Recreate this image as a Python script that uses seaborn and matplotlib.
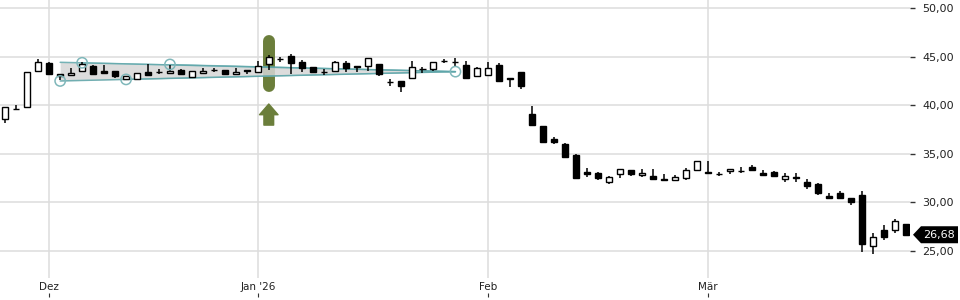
import numpy as np
import pandas as pd
import matplotlib
matplotlib.use("Agg")
import matplotlib.pyplot as plt
import seaborn as sns
from matplotlib.transforms import blended_transform_factory
from matplotlib.patches import Polygon

# ---------------- data ----------------
opens = [38.56, 39.62, 39.79, 43.50, 44.35, 43.22, 43.15, 43.56, 44.04, 43.56,
         43.50, 42.74, 42.67, 43.40, 43.42, 43.29, 43.63, 42.88, 43.29, 43.62,
         43.66, 43.19, 43.63, 43.40, 44.25, 44.74, 45.07, 44.45, 43.91, 43.45,
         43.53, 44.35, 44.04, 44.04, 44.25, 42.36, 42.47, 42.84, 43.68, 43.73,
         44.58, 44.48, 44.15, 42.98, 43.15, 44.15, 42.78, 43.43, 39.10, 37.87,
         36.56, 35.99, 34.89, 33.14, 33.00, 32.08, 32.90, 33.34, 32.80, 32.73,
         32.45, 32.35, 32.55, 33.37, 33.10, 32.92, 33.21, 33.26, 33.62, 33.07,
         33.14, 32.39, 32.58, 32.11, 31.90, 30.67, 30.98, 30.43, 30.77, 25.56,
         27.14, 27.14, 27.79]
highs = [39.80, 40.00, 43.40, 44.73, 44.49, 43.25, 43.81, 44.49, 44.18, 44.15,
         43.50, 42.98, 43.32, 44.25, 43.70, 44.15, 43.70, 43.56, 43.81, 43.87,
         43.66, 43.81, 43.63, 44.56, 45.17, 45.00, 45.25, 44.66, 43.91, 43.70,
         44.59, 44.59, 44.04, 44.84, 44.25, 42.71, 42.47, 44.53, 43.97, 44.42,
         44.76, 44.84, 44.56, 43.97, 44.42, 44.32, 42.80, 43.43, 39.96, 37.90,
         36.74, 36.09, 34.99, 33.52, 33.11, 32.70, 33.42, 33.34, 33.42, 33.42,
         32.93, 32.83, 33.52, 34.24, 34.24, 33.17, 33.45, 33.68, 33.86, 33.34,
         33.24, 33.00, 33.00, 32.39, 32.00, 31.00, 31.15, 30.43, 31.15, 26.83,
         27.65, 28.30, 27.79]
lows = [38.21, 39.52, 39.79, 43.50, 43.19, 42.55, 43.15, 43.56, 43.25, 43.35,
        42.78, 42.60, 42.67, 43.15, 43.20, 43.29, 43.19, 42.88, 43.29, 43.46,
        43.25, 43.19, 43.22, 43.40, 43.63, 44.49, 43.19, 43.40, 43.35, 43.12,
        43.53, 43.40, 43.46, 43.56, 43.05, 42.02, 41.40, 42.84, 43.29, 43.56,
        44.32, 43.97, 42.84, 42.98, 43.15, 42.53, 41.91, 41.68, 37.87, 36.15,
        36.02, 34.71, 32.55, 32.59, 32.32, 31.90, 32.55, 32.73, 32.59, 32.39,
        32.28, 32.20, 32.35, 33.24, 33.07, 32.76, 32.93, 33.00, 33.37, 32.80,
        32.76, 32.14, 32.14, 31.39, 30.80, 30.39, 30.36, 29.74, 24.94, 24.70,
        26.17, 26.83, 26.68]
closes = [39.79, 39.66, 43.40, 44.42, 43.25, 43.05, 43.35, 44.28, 43.25, 43.35,
          42.98, 42.98, 43.32, 43.15, 43.40, 43.53, 43.19, 43.56, 43.56, 43.64,
          43.25, 43.40, 43.50, 44.04, 45.00, 44.78, 44.38, 43.87, 43.46, 43.47,
          44.45, 43.81, 43.91, 44.84, 43.19, 42.38, 42.02, 43.97, 43.72, 44.42,
          44.60, 44.50, 42.84, 43.81, 43.81, 42.53, 42.72, 42.02, 37.97, 36.26,
          36.26, 34.71, 32.55, 32.93, 32.49, 32.65, 33.42, 32.90, 33.03, 32.39,
          32.28, 32.62, 33.31, 34.24, 33.07, 32.94, 33.45, 33.28, 33.37, 32.80,
          32.76, 32.73, 32.52, 31.73, 31.01, 30.46, 30.46, 30.02, 25.73, 26.48,
          26.45, 28.10, 26.68]

first_day = "2025-11-25"
last_day = "2026-03-26"
exchange_holidays = ["2025-12-24", "2025-12-25", "2025-12-26", "2025-12-31", "2026-01-01"]
month_labels = {12: "Dez", 1: "Jan '26", 2: "Feb", 3: "Mär"}
ytick_values = [25, 30, 35, 40, 45, 50]
last_price_label = "26,68"

# triangle formation (trading-day index, price)
tri_upper_x = [5, 41]
tri_upper_y = [44.42, 43.46]
tri_lower_x = [5, 41]
tri_lower_y = [42.50, 43.46]
tri_fan_x = [[7, 41], [15, 41], [11, 41]]
tri_fan_y = [[44.37, 43.46], [44.20, 43.46], [42.66, 43.46]]
pivot_x = [5, 7, 11, 15, 41]
pivot_y = [42.50, 44.37, 42.66, 44.20, 43.46]

# signal marker
signal_idx = 24
signal_top = 47.23
signal_bottom = 41.37
arrow_tip = 40.13
arrow_base = 37.96

# ---------------- build frame ----------------
dates = pd.bdate_range(first_day, last_day)
dates = dates[~dates.isin(pd.to_datetime(exchange_holidays))]
df = pd.DataFrame({"date": dates, "open": opens, "high": highs,
                   "low": lows, "close": closes})
df["x"] = np.arange(len(df))
df["up"] = df["close"] >= df["open"]

# ---------------- style ----------------
sns.set_theme(style="white")
plt.rcParams["font.family"] = ["DejaVu Sans"]

W, H = 960, 300
fig = plt.figure(figsize=(W / 100, H / 100), dpi=100)
ax = fig.add_axes([0, 22 / H, 910 / W, 278 / H])

grid_c = "#dddddd"
olive = "#6b7e3b"
teal = "#5ea6aa"
ink = "#000000"

# signal bar (rounded) and arrow
cap = 6 / 9.72  # half of the line width, in price units
ax.plot([signal_idx, signal_idx], [signal_bottom + cap, signal_top - cap],
        color=olive, lw=8.6, solid_capstyle="round", zorder=1.5)
ax.annotate("", xy=(signal_idx, arrow_tip), xytext=(signal_idx, arrow_base),
            arrowprops=dict(arrowstyle="simple,head_length=0.55,head_width=0.95,tail_width=0.5",
                            color=olive, shrinkA=0, shrinkB=0, mutation_scale=14),
            zorder=1.5)

# triangle band
xs = np.array(tri_upper_x, dtype=float)
ax.fill_between(xs, tri_lower_y, tri_upper_y, color="#d6d6d6", alpha=0.85,
                lw=0, zorder=1.8)
ax.plot(tri_upper_x, tri_upper_y, color=teal, lw=1.1, alpha=0.85, zorder=1.9)
ax.plot(tri_lower_x, tri_lower_y, color=teal, lw=1.1, alpha=0.85, zorder=1.9)
for fx, fy in zip(tri_fan_x, tri_fan_y):
    ax.plot(fx, fy, color=teal, lw=0.9, alpha=0.6, zorder=1.9)
sns.scatterplot(x=pivot_x, y=pivot_y, ax=ax, s=55, facecolor="none",
                edgecolor="#7fb7ba", linewidth=1.1, zorder=4, legend=False)

# candles
ax.vlines(df["x"], df["low"], df["high"], color=ink, lw=1.1, zorder=2.5)
body_bottom = np.minimum(df["open"], df["close"])
body_height = (df["close"] - df["open"]).abs()
ax.bar(df["x"], body_height, bottom=body_bottom, width=0.55,
       color=np.where(df["up"], "white", "black"), edgecolor=ink,
       linewidth=1.0, zorder=3)

# axes limits
ax.set_xlim(-0.48, 82.4)
ax.set_ylim(22.23, 50.83)

# grid / ticks
month_start = df.groupby([df["date"].dt.year, df["date"].dt.month])["x"].min().values
month_start = [m for m in month_start if m > 0]
tick_text = [month_labels[df["date"].iloc[m].month] for m in month_start]
ax.set_xticks(month_start)
ax.set_xticklabels(tick_text)
ax.set_yticks(ytick_values)
ax.set_yticklabels([f"{v:.2f}".replace(".", ",") for v in ytick_values])
ax.yaxis.tick_right()
ax.grid(True, color=grid_c, lw=1.1, zorder=0)
ax.set_axisbelow(True)
for s in ax.spines.values():
    s.set_visible(False)
ax.tick_params(axis="x", length=0, pad=3, labelsize=7.5, labelcolor="#222222")
ax.tick_params(axis="y", length=3.6, width=1.0, color="#333333", pad=5,
               labelsize=8, labelcolor="#222222", right=True, left=False)

sec = ax.secondary_xaxis(-0.054)
sec.set_xticks(month_start)
sec.set_xticklabels([])
sec.tick_params(axis="x", length=3, width=0.8, color="#333333", direction="out")
sec.spines["bottom"].set_visible(False)

# last price tag
trans = blended_transform_factory(fig.transFigure, ax.transData)
last = df["close"].iloc[-1]
hh = 8.5 / 9.72
tag = Polygon([(913 / W, last), (921 / W, last + hh), (958 / W, last + hh),
               (958 / W, last - hh), (921 / W, last - hh)],
              closed=True, facecolor="black", edgecolor="none",
              transform=trans, clip_on=False, zorder=5)
fig.add_artist(tag)
fig.text(939.5 / W, last, last_price_label, transform=trans, color="white",
         fontsize=8, ha="center", va="center", zorder=6)

fig.savefig("out.png", dpi=100)
